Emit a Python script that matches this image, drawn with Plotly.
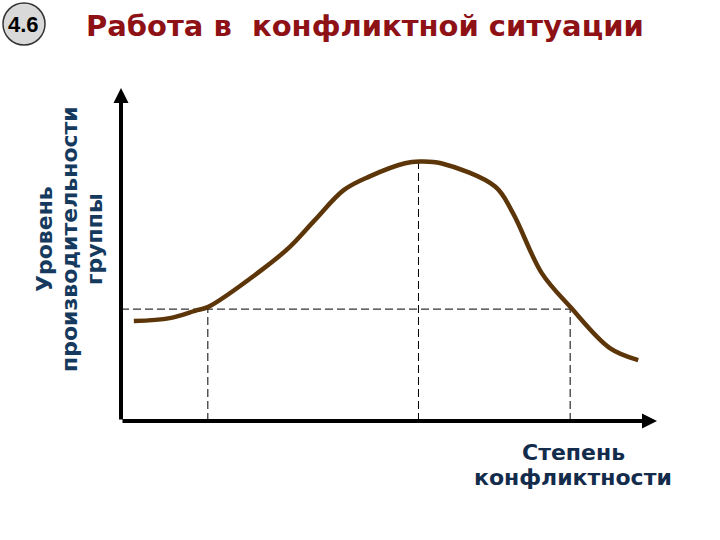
import plotly.graph_objects as go

# Curve: degree of conflict (x) vs group productivity (y)
conflict = [0.24, 0.91, 1.42, 1.62, 2.62, 3.15, 3.62, 4.16, 4.63, 5.30, 5.57, 5.97, 6.98, 7.31, 7.85, 8.38, 9.12, 9.65]
productivity = [3.00, 3.09, 3.33, 3.42, 4.53, 5.23, 6.04, 6.94, 7.34, 7.74, 7.79, 7.74, 7.04, 6.25, 4.44, 3.43, 2.19, 1.83]

# Reference guide points
guide_x = [1.62, 5.55, 8.38]
guide_y = [3.36, 7.79, 3.36]
axis_max_x = 10.0
axis_max_y = 10.0

title_text = "Работа в  конфликтной ситуации"
badge_text = "4.6"
y_label_lines = ["Уровень", "производительности", "группы"]
x_label_lines = ["Степень", "конфликтности"]

W, H = 720, 540
FONT = "DejaVu Sans, Verdana, sans-serif"


def px(x):
    return x / W


def py(y):
    return 1 - y / H


fig = go.Figure()

# dashed guide lines
fig.add_trace(go.Scatter(x=[0, guide_x[2]], y=[guide_y[0], guide_y[0]], mode="lines",
                         line=dict(color="black", width=1, dash="8px,4px"), hoverinfo="skip"))
for gx, gy in zip(guide_x, guide_y):
    fig.add_trace(go.Scatter(x=[gx, gx], y=[0, gy], mode="lines",
                             line=dict(color="black", width=1, dash="8px,4px"), hoverinfo="skip"))

# curve
fig.add_trace(go.Scatter(x=conflict, y=productivity, mode="lines",
                         line=dict(color="#5C3508", width=4.5, shape="spline", smoothing=1.0),
                         hoverinfo="skip"))

# axes with arrows
fig.add_annotation(x=axis_max_x, y=0, ax=0, ay=0, xref="x", yref="y", axref="x", ayref="y",
                   showarrow=True, arrowhead=2, arrowsize=0.75, arrowwidth=4, arrowcolor="black", text="")
fig.add_annotation(x=0, y=axis_max_y, ax=0, ay=0, xref="x", yref="y", axref="x", ayref="y",
                   showarrow=True, arrowhead=2, arrowsize=0.75, arrowwidth=4, arrowcolor="black", text="")

# badge
fig.add_shape(type="circle", xref="paper", yref="paper",
              x0=px(3), x1=px(45), y0=py(45), y1=py(3),
              line=dict(color="#333333", width=1.5), fillcolor="#D9D9D9")
fig.add_annotation(x=px(23), y=py(25), xref="paper", yref="paper", text="<b>" + badge_text + "</b>",
                   xanchor="center", yanchor="middle", showarrow=False,
                   font=dict(family="Liberation Sans, Arial", size=22, color="black"))

# title
fig.add_annotation(x=px(365), y=py(26), xref="paper", yref="paper", text="<b>" + title_text + "</b>",
                   xanchor="center", yanchor="middle", showarrow=False,
                   font=dict(family=FONT, size=29, color="#8E1116"))

# y axis label (rotated, three lines)
for line, cx in zip(y_label_lines, [44, 69, 94]):
    fig.add_annotation(x=px(cx), y=py(239), xref="paper", yref="paper", text="<b>" + line + "</b>",
                       xanchor="center", yanchor="middle", showarrow=False, textangle=-90,
                       font=dict(family=FONT, size=22, color="#163A5E"))

# x axis label (two lines)
for line, cy in zip(x_label_lines, [452, 477]):
    fig.add_annotation(x=px(573), y=py(cy), xref="paper", yref="paper", text="<b>" + line + "</b>",
                       xanchor="center", yanchor="middle", showarrow=False,
                       font=dict(family=FONT, size=22, color="#142C4C"))

px_per_x = 53.6
px_per_y = 33.3
fig.update_layout(
    width=W, height=H,
    margin=dict(l=0, r=0, t=0, b=0),
    paper_bgcolor="white", plot_bgcolor="white",
    showlegend=False,
    xaxis=dict(range=[-121 / px_per_x, (W - 121) / px_per_x], visible=False, fixedrange=True),
    yaxis=dict(range=[-(H - 421) / px_per_y, 421 / px_per_y], visible=False, fixedrange=True),
)

fig.write_html("out.html", config={"displayModeBar": False},
               post_script="document.body.style.margin='0';")
